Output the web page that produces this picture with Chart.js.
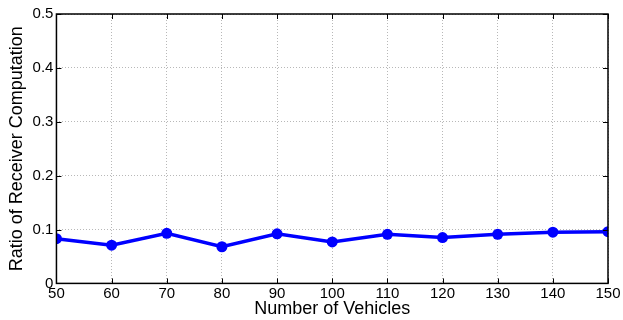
<!DOCTYPE html>
<html>
<head>
<meta charset="utf-8">
<script src="https://cdn.jsdelivr.net/npm/chart.js@4"></script>
<style>
  html, body { margin: 0; padding: 0; background: #fff; }
</style>
</head>
<body>
<canvas id="chart" width="623" height="320"></canvas>
<script>
// data
const vehicles = [50, 60, 70, 80, 90, 100, 110, 120, 130, 140, 150];
const ratio = [0.083, 0.071, 0.093, 0.068, 0.092, 0.077, 0.091, 0.085, 0.091, 0.095, 0.096];
const yTicks = [0, 0.1, 0.2, 0.3, 0.4, 0.5];

const FONT = { family: '"Liberation Sans", Arial, Helvetica, sans-serif', size: 15 };

// matlab style box + inward ticks
const boxPlugin = {
    id: 'box',
    afterDraw(chart) {
        const ctx = chart.ctx;
        const a = chart.chartArea;
        const x = chart.scales.x, y = chart.scales.y;
        ctx.save();
        ctx.strokeStyle = '#000';
        ctx.lineWidth = 1.5;
        ctx.strokeRect(a.left, a.top, a.right - a.left, a.bottom - a.top);
        ctx.lineWidth = 1;
        ctx.beginPath();
        x.ticks.forEach(t => {
            const px = Math.round(x.getPixelForValue(t.value)) + 0.5;
            ctx.moveTo(px, a.bottom); ctx.lineTo(px, a.bottom - 5);
            ctx.moveTo(px, a.top); ctx.lineTo(px, a.top + 5);
        });
        y.ticks.forEach(t => {
            const py = Math.round(y.getPixelForValue(t.value)) + 0.5;
            ctx.moveTo(a.left, py); ctx.lineTo(a.left + 5, py);
            ctx.moveTo(a.right, py); ctx.lineTo(a.right - 5, py);
        });
        ctx.stroke();
        ctx.restore();
    }
};

new Chart(document.getElementById('chart'), {
    type: 'line',
    data: {
        datasets: [{
            data: vehicles.map((v, i) => ({ x: v, y: ratio[i] })),
            borderColor: '#0000ff',
            backgroundColor: '#0000ff',
            borderWidth: 3.5,
            pointRadius: 5.5,
            pointBorderWidth: 0,
            tension: 0
        }]
    },
    options: {
        responsive: false,
        animation: false,
        layout: { padding: { left: 0, right: 15, top: 14, bottom: 0 } },
        plugins: { legend: { display: false }, tooltip: { enabled: false } },
        scales: {
            x: {
                type: 'linear',
                min: 50, max: 150,
                afterBuildTicks: s => { s.ticks = vehicles.map(v => ({ value: v })); },
                grid: { color: '#b8b8b8', drawTicks: false, lineWidth: 1 },
                border: { display: false, dash: [1, 2] },
                ticks: { font: FONT, color: '#000', padding: 1, maxRotation: 0 },
                title: { display: true, text: 'Number of Vehicles', font: { ...FONT, size: 18 }, color: '#000', padding: { top: -5, bottom: 0 } }
            },
            y: {
                min: 0, max: 0.5,
                afterBuildTicks: s => { s.ticks = yTicks.map(v => ({ value: v })); },
                grid: { color: '#b8b8b8', drawTicks: false, lineWidth: 1 },
                border: { display: false, dash: [1, 2] },
                ticks: { font: FONT, color: '#000', padding: 3, callback: v => (v === 0 ? '0' : v.toFixed(1)) },
                title: { display: true, text: 'Ratio of Receiver Computation', font: { ...FONT, size: 18 }, color: '#000', padding: { top: 6, bottom: 2 } }
            }
        }
    },
    plugins: [boxPlugin]
});
</script>
</body>
</html>
